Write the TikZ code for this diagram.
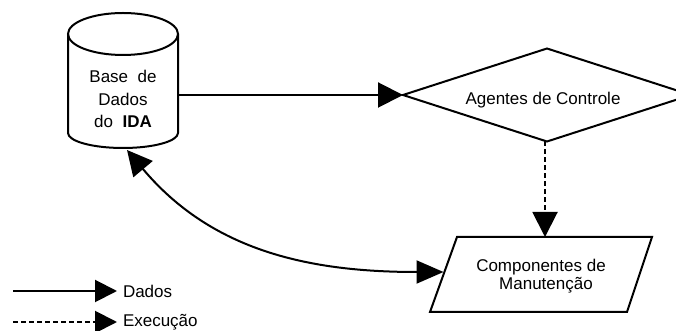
\documentclass[tikz,border=0pt]{standalone}
\usepackage{fontspec}
\setmainfont{Liberation Sans}
\usetikzlibrary{arrows.meta}
\begin{document}
\begin{tikzpicture}[x=1pt,y=1pt,
  line width=2pt,
  every node/.style={font=\fontsize{17}{22.5}\selectfont, inner sep=0pt},
  flow/.style={-{Triangle[length=25pt,width=25pt]}},
  flowboth/.style={{Triangle[length=25pt,width=25pt]}-{Triangle[length=27pt,width=23pt]}},
  execflow/.style={flow, dash pattern=on 5pt off 3pt},
  legendflow/.style={-{Triangle[length=22pt,width=22pt]}}]
\useasboundingbox (0,0) rectangle (676,331);
\clip (0,0) rectangle (676,331);

% database cylinder
\draw[line join=round] (68,297) -- (68,198)
  arc[start angle=180,end angle=360,x radius=55,y radius=15] -- (178,297);
\draw (123,297) ellipse[x radius=55,y radius=21];
\node[align=center] (db) at (123,232) {Base~~de\\Dados\\do~~\textbf{IDA}};
\coordinate (dbright) at (178,236);
\coordinate (dbbottom) at (127,181);

% control agents (diamond)
\draw[line join=miter] (403,236) -- (547,282.5) -- (691,236) -- (547,189.5) -- cycle;
\coordinate (agleft) at (403,236);
\coordinate (agbottom) at (545,189.5);
\node (ag) at (543,230.5) {Agentes de Controle};

% maintenance components (parallelogram)
\draw[line join=miter] (457,94) -- (652,94) -- (627,19) -- (430,19) -- cycle;
\coordinate (mctop) at (545,94);
\coordinate (mcleft) at (443.5,59);
\node (mc1) at (541,64) {Componentes de};
\node (mc2) at (546,45.5) {Manutenção};

% connectors
\draw[flow] (dbright) -- (agleft);
\draw[execflow] (agbottom) -- (mctop);
\draw[flowboth] (dbbottom) to[out=-50,in=180] (mcleft);

% legend
\coordinate (l1a) at (13,40);
\coordinate (l1b) at (117,40);
\coordinate (l2a) at (13,9);
\coordinate (l2b) at (117,9);
\draw[legendflow] (l1a) -- (l1b);
\draw[legendflow, dash pattern=on 5pt off 3pt] (l2a) -- (l2b);
\node[anchor=west] (ldados) at (122,40) {Dados};
\node[anchor=west] (lexec) at (122,9) {Execução};
\end{tikzpicture}
\end{document}
